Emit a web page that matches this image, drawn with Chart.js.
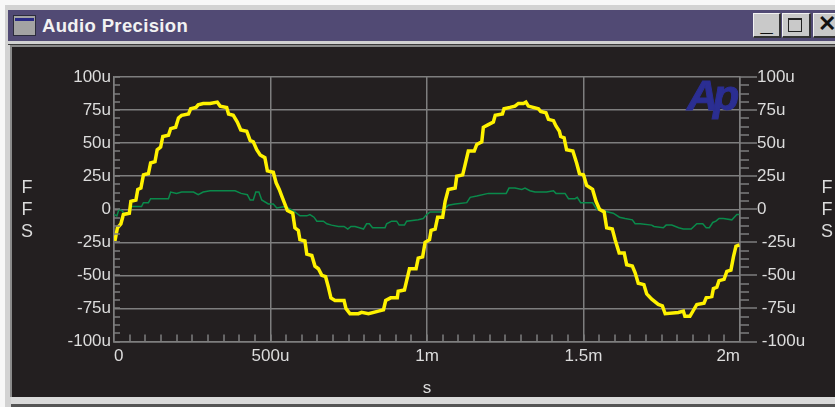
<!DOCTYPE html>
<html>
<head>
<meta charset="utf-8">
<title>Audio Precision</title>
<script src="https://cdn.jsdelivr.net/npm/chart.js@4/dist/chart.umd.min.js"></script>
<style>
    html, body { margin: 0; padding: 0; background: #f7f7f7; overflow: hidden; }
    #frame { position: absolute; left: 5px; top: 5px; width: 830px; height: 402px; background: #d2d2d2; }
    #bar { position: absolute; left: 8px; top: 10px; width: 827px; height: 31px; background: #514a74; }
    #barText { position: absolute; left: 42px; top: 14px; color: #f2f2f2; font: bold 18.5px "Liberation Sans", sans-serif; line-height: 24px; letter-spacing: 0.35px; }
    #icon { position: absolute; left: 13px; top: 15px; width: 23px; height: 21px; background: #a3a3a3; border: 1px solid #2c2c3c; box-sizing: border-box; }
    #icon div { height: 3px; margin: 2px 1px 0; background: #2a2a86; }
    .btn { position: absolute; top: 13px; height: 25px; background: #c9c9c9; border-top: 1px solid #f2f2f2; border-left: 1px solid #f2f2f2; border-right: 2px solid #333; border-bottom: 2px solid #333; box-sizing: border-box; color: #111; text-align: center; font: bold 22px "Liberation Sans", sans-serif; line-height: 20px; }
    #maxBox { position: absolute; left: 5px; top: 4px; width: 14px; height: 14px; border: 1px solid #222; border-top-width: 2px; box-sizing: border-box; }
    #panelEdge { position: absolute; left: 8px; top: 44px; width: 827px; height: 1px; background: #3a3a3a; }
    #panelLine { position: absolute; left: 10px; top: 45px; width: 825px; height: 352px; background: #8a8a8a; }
    #panel { position: absolute; left: 12px; top: 47px; width: 823px; height: 350px; background: #231f20; }
    #foot { position: absolute; left: 11px; top: 397px; width: 824px; height: 7px; background: #dadada; }
    #footDark { position: absolute; left: 11px; top: 404px; width: 824px; height: 3px; background: #555; }
    #chart { position: absolute; left: 0; top: 0; display: block; }
    #logo { position: absolute; left: 687px; top: 70px; color: #2b2e92; font: italic bold 43px "Liberation Sans", sans-serif; line-height: 50px; letter-spacing: -5px; -webkit-text-stroke: 1px #2b2e92; }
</style>
</head>
<body>
<div id="frame"></div>
<div id="bar"></div>
<div id="icon"><div></div></div>
<div id="barText">Audio Precision</div>
<div class="btn" style="left:753px;width:28px">_</div>
<div class="btn" style="left:782px;width:29px"><div id="maxBox"></div></div>
<div class="btn" style="left:813px;width:28px">✕</div>
<div id="panelEdge"></div>
<div id="panelLine"></div>
<div id="panel"></div>
<div id="foot"></div>
<div id="footDark"></div>
<canvas id="chart" width="835" height="407"></canvas>
<div id="logo">Ap</div>
<script>
// time in microseconds, level in micro FFS
const yellowTime = [3, 11, 22, 30, 49, 54, 70, 76, 86, 94, 110, 117, 131, 138, 149, 156, 174, 181, 197, 206, 216, 238, 245, 262, 269, 285, 307, 330, 339, 360, 366, 381, 394, 405, 424, 435, 445, 456, 467, 482, 490, 509, 518, 528, 536, 554, 571, 578, 589, 594, 610, 616, 632, 642, 653, 664, 676, 685, 693, 706, 735, 741, 754, 781, 791, 813, 845, 861, 868, 884, 905, 908, 928, 935, 944, 965, 972, 986, 994, 1008, 1013, 1026, 1034, 1050, 1058, 1068, 1090, 1095, 1114, 1122, 1132, 1151, 1159, 1175, 1180, 1196, 1212, 1218, 1241, 1246, 1265, 1281, 1292, 1308, 1316, 1324, 1356, 1363, 1380, 1388, 1404, 1412, 1423, 1427, 1438, 1446, 1466, 1478, 1487, 1500, 1510, 1529, 1540, 1551, 1566, 1574, 1592, 1601, 1614, 1630, 1638, 1656, 1665, 1675, 1693, 1702, 1718, 1739, 1752, 1761, 1803, 1819, 1824, 1840, 1862, 1885, 1892, 1910, 1915, 1926, 1933, 1949, 1958, 1971, 1979, 1987, 1998];
const yellowLevel = [-24, -14, -11, -4, -3, 6, 7, 15, 16, 26, 27, 35, 36, 45, 47, 55, 56, 61, 62, 69, 71, 72, 76, 77, 79, 80, 80, 81, 78, 77, 72, 71, 66, 60, 59, 52, 51, 45, 41, 39, 29, 28, 20, 15, 10, -1, -3, -14, -16, -23, -24, -34, -35, -43, -45, -50, -51, -59, -67, -69, -69, -75, -79, -79, -78, -79, -77, -76, -69, -67, -67, -62, -61, -54, -45, -45, -37, -36, -25, -23, -16, -15, -6, -6, 6, 15, 16, 25, 26, 34, 44, 44, 49, 51, 62, 64, 66, 71, 72, 76, 77, 78, 80, 80, 81, 78, 76, 74, 73, 68, 67, 63, 59, 55, 54, 45, 44, 35, 27, 26, 18, 15, 6, 0, -2, -14, -15, -23, -33, -33, -42, -43, -48, -56, -57, -64, -68, -72, -73, -79, -78, -77, -81, -81, -72, -71, -67, -66, -60, -59, -54, -53, -47, -46, -36, -28, -27];
const greenTime = [0, 9, 16, 25, 32, 51, 56, 88, 94, 110, 117, 174, 181, 200, 216, 243, 254, 269, 285, 307, 387, 406, 426, 435, 445, 453, 463, 472, 493, 509, 520, 546, 573, 594, 616, 626, 639, 648, 669, 680, 695, 717, 735, 747, 757, 770, 784, 797, 807, 816, 826, 866, 871, 887, 903, 911, 928, 935, 972, 988, 999, 1010, 1047, 1068, 1090, 1127, 1138, 1159, 1196, 1253, 1262, 1281, 1303, 1313, 1329, 1345, 1382, 1404, 1412, 1441, 1452, 1473, 1480, 1491, 1529, 1542, 1595, 1615, 1633, 1656, 1665, 1681, 1718, 1725, 1755, 1764, 1782, 1804, 1819, 1844, 1862, 1881, 1892, 1902, 1913, 1923, 1933, 1947, 1974, 1990, 1998];
const greenLevel = [-4, -5, 0, -1, -3, -2, 2, 2, 5, 5, 8, 8, 13, 12, 13, 13, 13, 11, 13, 14, 14, 12, 11, 7, 7, 13, 13, 7, 4, 4, 1, 2, -1, -5, -5, -4, -6, -9, -9, -11, -12, -13, -13, -15, -13, -13, -14, -15, -11, -11, -14, -14, -11, -9, -9, -12, -12, -9, -8, -7, -4, -2, -2, 3, 4, 5, 9, 10, 12, 12, 16, 16, 15, 16, 14, 13, 13, 14, 12, 12, 8, 8, 9, 5, 5, 0, -3, -6, -7, -8, -11, -11, -12, -13, -14, -12, -12, -14, -15, -15, -11, -11, -14, -14, -10, -9, -7, -7, -8, -4, -4];

const xTickValues = [0, 500, 1000, 1500, 2000];
const xTickLabels = ['0', '500u', '1m', '1.5m', '2m'];
const yTickValues = [100, 75, 50, 25, 0, -25, -50, -75, -100];
const yTickLabels = ['100u', '75u', '50u', '25u', '0', '-25u', '-50u', '-75u', '-100u'];
const sideLetters = ['F', 'F', 'S'];

const lineGrey = '#7e7e7e';
const textGrey = '#dcdcdc';
const tickFont = { family: '"Liberation Sans", Arial, sans-serif', size: 17 };

function toPoints(times, levels) {
    return times.map((t, i) => ({ x: t, y: levels[i] }));
}

// Chart.js has no minor tick marks, so they are drawn here from the scales
const minorTicks = {
    id: 'minorTicks',
    afterDatasetsDraw(chart) {
        const c = chart.ctx;
        const area = chart.chartArea;
        const x = chart.scales.x;
        const y = chart.scales.y;
        c.save();
        c.strokeStyle = lineGrey;
        c.lineWidth = 1.5;
        c.beginPath();
        for (let v = -100; v <= 100; v += 6.25) {
            const py = Math.round(y.getPixelForValue(v));
            const major = v % 25 === 0;
            c.moveTo(area.left, py);
            c.lineTo(area.left + 6, py);
            c.moveTo(area.right, py);
            c.lineTo(area.right + (major ? 17 : 9), py);
        }
        for (let t = 50; t < 2000; t += 50) {
            const px = Math.round(x.getPixelForValue(t));
            c.moveTo(px, area.bottom);
            c.lineTo(px, area.bottom - 7);
        }
        c.stroke();

        c.fillStyle = textGrey;
        c.font = '18px "Liberation Sans", Arial, sans-serif';
        c.textAlign = 'center';
        c.textBaseline = 'middle';
        sideLetters.forEach((s, i) => {
            c.fillText(s, 27, 188 + i * 22);
            c.fillText(s, 827, 188 + i * 22);
        });
        c.restore();
    }
};

new Chart(document.getElementById('chart'), {
    type: 'line',
    data: {
        datasets: [{
            label: 'Channel A',
            data: toPoints(yellowTime, yellowLevel),
            borderColor: '#fff200',
            borderWidth: 3.5,
            pointRadius: 0,
            tension: 0
        }, {
            label: 'Channel B',
            data: toPoints(greenTime, greenLevel),
            borderColor: '#0a8a4b',
            borderWidth: 1.5,
            pointRadius: 0,
            tension: 0
        }]
    },
    options: {
        responsive: false,
        animation: false,
        layout: { padding: { top: 77 } },
        plugins: { legend: { display: false }, tooltip: { enabled: false } },
        scales: {
            x: {
                type: 'linear',
                min: 0,
                max: 2000,
                afterFit: s => { s.height = 65.5; },
                afterBuildTicks: s => { s.ticks = xTickValues.map(v => ({ value: v })); },
                grid: { color: lineGrey, lineWidth: 1.5, drawTicks: false },
                border: { color: lineGrey, width: 1.5 },
                ticks: {
                    color: textGrey,
                    font: tickFont,
                    padding: 5,
                    align: 'inner',
                    maxRotation: 0,
                    callback: v => xTickLabels[xTickValues.indexOf(v)]
                },
                title: { display: true, text: 's', color: textGrey, font: { family: tickFont.family, size: 17 }, padding: { top: 0, bottom: 8 } }
            },
            y: {
                position: 'left',
                min: -100,
                max: 100,
                afterFit: s => { s.width = 114; },
                afterBuildTicks: s => { s.ticks = yTickValues.map(v => ({ value: v })); },
                grid: { color: lineGrey, lineWidth: 1.5, drawTicks: false },
                border: { color: lineGrey, width: 1.5 },
                ticks: {
                    color: textGrey,
                    font: tickFont,
                    padding: 3,
                    callback: v => yTickLabels[yTickValues.indexOf(v)]
                }
            },
            yRight: {
                position: 'right',
                min: -100,
                max: 100,
                afterFit: s => { s.width = 95; },
                afterBuildTicks: s => { s.ticks = yTickValues.map(v => ({ value: v })); },
                grid: { display: false, drawTicks: false },
                border: { color: lineGrey, width: 1.5 },
                ticks: {
                    color: textGrey,
                    font: tickFont,
                    padding: 17,
                    // negative labels sit a little further out in the original
                    callback: v => (v < 0 ? ' ' : '') + yTickLabels[yTickValues.indexOf(v)]
                }
            }
        }
    },
    plugins: [minorTicks]
});
</script>
</body>
</html>
